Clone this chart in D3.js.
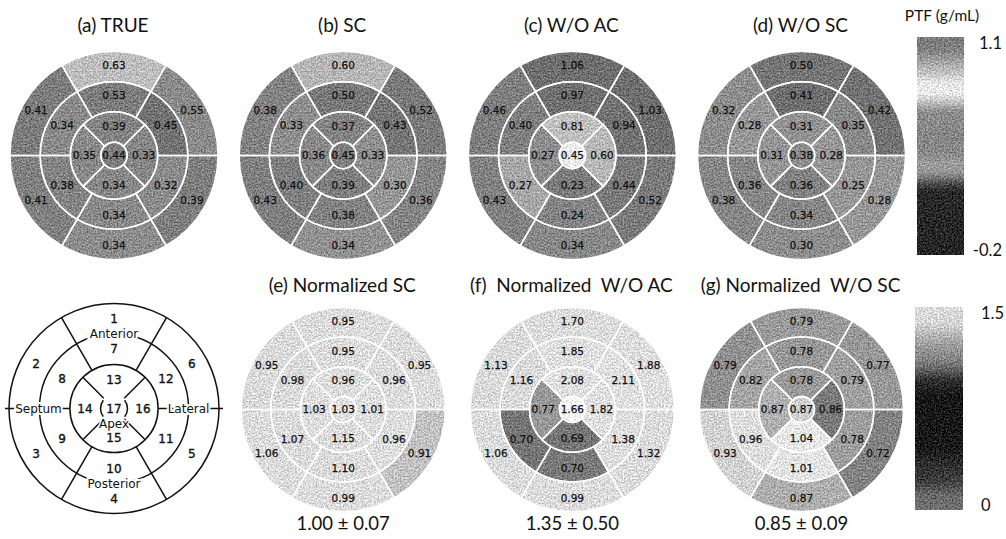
<!DOCTYPE html>
<html><head><meta charset="utf-8">
<script src="https://cdn.jsdelivr.net/npm/d3@7"></script>
<style>body{margin:0;background:#fff} svg{display:block}</style>
</head><body>
<svg id="chart" width="1006" height="539"></svg>
<script>
// ---------------- DATA ----------------
const segments = d3.range(1, 18); // AHA segments 1..17

const trueVals      = [0.63,0.41,0.41,0.34,0.39,0.55,0.53,0.34,0.38,0.34,0.32,0.45,0.39,0.35,0.34,0.33,0.44];
const scVals        = [0.60,0.38,0.43,0.34,0.36,0.52,0.50,0.33,0.40,0.38,0.30,0.43,0.37,0.36,0.39,0.33,0.45];
const woacVals      = [1.06,0.46,0.43,0.34,0.52,1.03,0.97,0.40,0.27,0.24,0.44,0.94,0.81,0.27,0.23,0.60,0.45];
const woscVals      = [0.50,0.32,0.38,0.30,0.28,0.42,0.41,0.28,0.36,0.34,0.25,0.35,0.31,0.31,0.36,0.28,0.38];
const normScVals    = [0.95,0.95,1.06,0.99,0.91,0.95,0.95,0.98,1.07,1.10,0.96,0.96,0.96,1.03,1.15,1.01,1.03];
const normWoacVals  = [1.70,1.13,1.06,0.99,1.32,1.88,1.85,1.16,0.70,0.70,1.38,2.11,2.08,0.77,0.69,1.82,1.66];
const normWoscVals  = [0.79,0.79,0.93,0.87,0.72,0.77,0.78,0.82,0.96,1.01,0.78,0.79,0.78,0.87,1.04,0.86,0.87];

// grey level of each segment as it appears in the (grey-scale) picture, 0 = black, 255 = white
const trueShade     = [190,124,128,140,126,138,124,137,132,137,139,114,132,137,136,134,126];
const scShade       = [182,130,127,145,132,122,120,141,127,130,150,117,132,137,127,143,127];
const woacShade     = [110,126,129,136,122,110,112,127,167,132,122,114,192,141,124,184,236];
const woscShade     = [117,141,134,141,151,114,110,151,134,134,151,136,146,149,130,151,141];
const normScShade   = [220,218,220,220,194,220,220,218,220,220,222,220,222,222,220,222,224];
const normWoacShade = [220,218,220,220,220,222,224,218,117,122,222,224,224,152,118,224,246];
const normWoscShade = [154,144,210,174,130,152,152,165,222,228,158,159,154,176,232,122,207];

const titles = ["(a) TRUE","(b) SC","(c) W/O AC","(d) W/O SC",
                "(e) Normalized SC","(f)  Normalized  W/O AC","(g) Normalized  W/O SC"];
const normSummary = ["1.00 \u00B1 0.07","1.35 \u00B1 0.50","0.85 \u00B1 0.09"];

const ptfDomain = [-0.2, 1.1];
const ptfTicks = [1.1, -0.2];
const ptfTickLabels = ["1.1", "-0.2"];
const normDomain = [0, 1.5];
const normTicks = [1.5, 0];
const normTickLabels = ["1.5", "0"];
const ptfBarTitle = "PTF (g/mL)";
// colour-bar grey ramps (fraction from top, grey level)
const ptfRamp  = [[0,122],[0.06,128],[0.11,162],[0.17,197],[0.21,232],[0.26,236],[0.30,192],[0.34,142],[0.45,134],[0.53,136],[0.58,156],[0.62,150],[0.645,120],[0.675,72],[0.71,40],[1,36]];
const normRamp = [[0,220],[0.08,214],[0.13,187],[0.2,152],[0.26,132],[0.31,97],[0.36,47],[0.44,22],[0.7,24],[0.78,47],[0.86,62],[0.92,102],[1,114]];

const schematicNames = ["Anterior","Lateral","Posterior","Septum"];

// ---------------- LAYOUT ----------------
const svg = d3.select("#chart");
const colX = d3.scaleLinear().domain([0, 3]).range([114, 801.5]);
const rowY = [155.5, 409.5];
const grey = d3.scaleLinear().domain([0, 255]).range(["#000000", "#ffffff"]);
const fmt = d3.format(".2f");

// grain filter to mimic the scanned texture
const defs = svg.append("defs");
const filt = defs.append("filter").attr("id", "grain")
  .attr("x", "-5%").attr("y", "-5%").attr("width", "110%").attr("height", "110%")
  .attr("color-interpolation-filters", "sRGB");
filt.append("feTurbulence").attr("type", "fractalNoise").attr("baseFrequency", "0.63")
  .attr("numOctaves", 3).attr("seed", 11).attr("result", "noise");
filt.append("feColorMatrix").attr("in", "noise").attr("type", "matrix")
  .attr("values", "1 0 0 0 0  1 0 0 0 0  1 0 0 0 0  0 0 0 0 1").attr("result", "gnoise");
filt.append("feComposite").attr("in", "SourceGraphic").attr("in2", "gnoise")
  .attr("operator", "arithmetic").attr("k1", 0).attr("k2", 1).attr("k3", 0.6).attr("k4", -0.3)
  .attr("result", "mix");
filt.append("feComposite").attr("in", "mix").attr("in2", "SourceGraphic").attr("operator", "in");

// segment geometry (fractions of outer radius), angles clockwise from 12 o'clock
const ringFrac = {apex: [0, 0.127], inner: [0.127, 0.42], middle: [0.42, 0.71], outer: [0.71, 1]};
function geom(s) {
  if (s <= 6)  return {ring: "outer",  c: (360 - (s - 1) * 60) % 360, half: 30, lr: 0.865};
  if (s <= 12) return {ring: "middle", c: (360 - (s - 7) * 60) % 360, half: 30, lr: 0.575};
  if (s <= 16) return {ring: "inner",  c: (360 - (s - 13) * 90) % 360, half: 45, lr: 0.285};
  return {ring: "apex", c: 0, half: 180, lr: 0};
}
const rad = d => d * Math.PI / 180;
const polar = (r, deg) => [r * Math.sin(rad(deg)), -r * Math.cos(rad(deg))];

function bullseye(cx, cy, R, vals, shades) {
  const g = svg.append("g").attr("transform", `translate(${cx},${cy})`);
  const data = segments.map((s, i) => ({s, v: vals[i], shade: shades[i], ...geom(s)}));
  const arc = d3.arc()
    .innerRadius(d => ringFrac[d.ring][0] * R)
    .outerRadius(d => ringFrac[d.ring][1] * R)
    .startAngle(d => rad(d.c - d.half))
    .endAngle(d => rad(d.c + d.half));
  g.append("g").attr("filter", "url(#grain)")
    .selectAll("path").data(data).join("path")
    .attr("d", arc).attr("fill", d => grey(d.shade));
  g.append("g").selectAll("path").data(data).join("path")
    .attr("d", arc).attr("fill", "none").attr("stroke", "#fff").attr("stroke-width", 1.5);
  g.append("g").selectAll("text").data(data).join("text")
    .attr("x", d => polar(d.lr * R, d.c)[0])
    .attr("y", d => polar(d.lr * R, d.c)[1])
    .attr("dy", "0.36em")
    .attr("text-anchor", "middle")
    .style("font-family", "'DejaVu Sans', sans-serif").style("font-size", "10.5px")
    .attr("fill", "#111").attr("stroke", "#111").attr("stroke-width", 0.25)
    .text(d => fmt(d.v));
}

const panels = [
  [trueVals, trueShade], [scVals, scShade], [woacVals, woacShade], [woscVals, woscShade]
];
panels.forEach((p, i) => bullseye(colX(i), rowY[0], 104, p[0], p[1]));
const normPanels = [[normScVals, normScShade], [normWoacVals, normWoacShade], [normWoscVals, normWoscShade]];
normPanels.forEach((p, i) => bullseye(colX(i + 1), rowY[1], 102, p[0], p[1]));

// titles
const titleFont = "Lato, 'Open Sans', sans-serif";
titles.forEach((t, i) => {
  const col = i < 4 ? i : i - 3;
  const y = i < 4 ? 32 : 292;
  svg.append("text").attr("x", colX(col) - 1).attr("y", y).attr("text-anchor", "middle")
    .style("white-space", "pre").style("font-family", titleFont).style("font-size", "19px")
    .attr("fill", "#111").text(t);
});
normSummary.forEach((t, i) => {
  svg.append("text").attr("x", colX(i + 1)).attr("y", 530).attr("text-anchor", "middle")
    .style("font-family", titleFont).style("font-size", "18.5px").attr("fill", "#111").text(t);
});

// ---------------- schematic ----------------
(function schematic() {
  const cx = colX(0), cy = 408.5, R = 105;
  const g = svg.append("g").attr("transform", `translate(${cx},${cy})`)
    .attr("stroke", "#111").attr("stroke-width", 1.5).attr("fill", "none");
  [1, 0.71, 0.42].forEach(f => g.append("circle").attr("r", f * R));
  const rApex = 13.5;
  const apexArc = d3.arc().innerRadius(rApex).outerRadius(rApex);
  [[232, 308], [52, 128]].forEach(([a0, a1]) =>
    g.append("path").attr("d", apexArc({startAngle: rad(a0), endAngle: rad(a1)})));
  [30, 150, 210, 330].forEach(a => {
    const p0 = polar(0.42 * R, a), p1 = polar(R, a);
    g.append("line").attr("x1", p0[0]).attr("y1", p0[1]).attr("x2", p1[0]).attr("y2", p1[1]);
  });
  [90, 270].forEach(a => {
    const p0 = polar(0.42 * R, a), p1 = polar(R + 4, a);
    g.append("line").attr("x1", p0[0]).attr("y1", p0[1]).attr("x2", p1[0]).attr("y2", p1[1]);
  });
  [45, 135, 225, 315].forEach(a => {
    const p0 = polar(rApex + 1, a), p1 = polar(0.42 * R, a);
    g.append("line").attr("x1", p0[0]).attr("y1", p0[1]).attr("x2", p1[0]).attr("y2", p1[1]);
  });
  const tg = svg.append("g").attr("transform", `translate(${cx},${cy})`)
    .style("font-family", "'DejaVu Sans', sans-serif").style("font-size", "12px").attr("fill", "#111");
  const labR = {outer: 90, middle: 60, inner: 29, apex: 0};
  segments.forEach(s => {
    const gm = geom(s);
    const p = polar(labR[gm.ring], gm.c);
    tg.append("text").attr("x", p[0]).attr("y", p[1]).attr("dy", "0.36em")
      .attr("text-anchor", "middle").attr("stroke", "#111").attr("stroke-width", 0.35).text(s);
  });
  schematicNames.forEach((n, i) => {
    const p = polar(0.71 * R, i * 90);
    tg.append("text").attr("x", p[0] + (i === 3 ? -1 : 0)).attr("y", p[1] + (i === 2 ? 1 : 0)).attr("dy", "0.36em")
      .attr("text-anchor", "middle")
      .attr("stroke", "#fff").attr("stroke-width", 4).style("paint-order", "stroke")
      .text(n);
  });
  tg.append("text").attr("x", 0).attr("y", 15).attr("dy", "0.36em").attr("text-anchor", "middle")
    .attr("stroke", "#fff").attr("stroke-width", 3).style("paint-order", "stroke").text("Apex");
})();

// ---------------- colour bars ----------------
function colourBar(id, ramp, x, y0, y1, w, domain, ticks, labels, anchor, lx) {
  const lg = defs.append("linearGradient").attr("id", id)
    .attr("x1", 0).attr("y1", 0).attr("x2", 0).attr("y2", 1);
  ramp.forEach(([o, gv]) => lg.append("stop").attr("offset", o).attr("stop-color", grey(gv)));
  svg.append("rect").attr("x", x).attr("y", y0).attr("width", w).attr("height", y1 - y0)
    .attr("fill", `url(#${id})`).attr("filter", "url(#grain)");
  const sc = d3.scaleLinear().domain(domain).range([y1, y0]);
  ticks.forEach((t, i) => {
    const yy = sc(t) + (t === domain[1] ? 6 : -5);
    svg.append("text").attr("x", lx).attr("y", yy).attr("dy", "0.36em").attr("text-anchor", anchor)
      .style("font-family", titleFont).style("font-size", "16.5px").attr("fill", "#111").text(labels[i]);
  });
}
colourBar("ptfGrad", ptfRamp, 917, 37, 255, 47, ptfDomain, ptfTicks, ptfTickLabels, "end", 1002);
colourBar("normGrad", normRamp, 915, 307, 510, 48, normDomain, normTicks, normTickLabels, "start", 981);
svg.append("text").attr("x", 942).attr("y", 21).attr("text-anchor", "middle")
  .style("font-family", titleFont).style("font-size", "15.5px").attr("fill", "#111").text(ptfBarTitle);
</script>
</body></html>
